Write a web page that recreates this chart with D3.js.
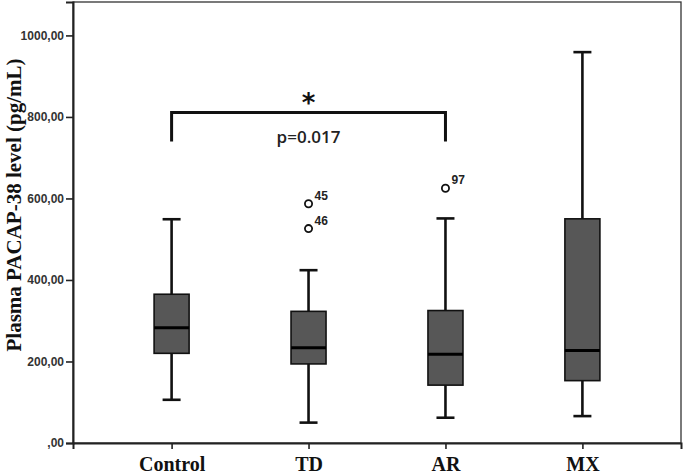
<!DOCTYPE html>
<html>
<head>
<meta charset="utf-8">
<script src="https://cdn.jsdelivr.net/npm/d3@7"></script>
<style>
html,body{margin:0;padding:0;background:#fff;}
svg{display:block;}
</style>
</head>
<body>
<svg id="chart" width="684" height="474"></svg>
<script>
const categories = ["Control", "TD", "AR", "MX"];
const lowerWhisker = [106, 50, 62, 66];
const q1Values = [220, 194, 142, 153];
const medianValues = [283, 234, 218, 227];
const q3Values = [365, 323, 325, 550];
const upperWhisker = [549, 424, 551, 959];
const outlierGroups = ["TD", "TD", "AR"];
const outlierValues = [587, 526, 625];
const outlierLabels = ["45", "46", "97"];
const yTicks = [0, 200, 400, 600, 800, 1000];
const yTickLabels = [",00", "200,00", "400,00", "600,00", "800,00", "1000,00"];
const bracketGroups = ["Control", "AR"];
const bracketTop = 811;
const bracketLeg = 740;
const pLabel = "p=0.017";

(function () {
const svg = d3.select("#chart");
const pL = 73, pR = 681, pT = 2, pB = 443;

const x = d3.scalePoint().domain(categories).range([pL, pR]).padding(0.72);
const y = d3.scaleLinear().domain([0, 1082]).range([pB, pT]);

svg.append("rect").attr("x", pL).attr("y", pT).attr("width", pR - pL).attr("height", pB - pT)
  .attr("fill", "none").attr("stroke", "#333").attr("stroke-width", 1.3);

const yAxis = d3.axisLeft(y).tickValues(yTicks).tickSize(7).tickPadding(2)
  .tickFormat((d, i) => yTickLabels[i]);
const gy = svg.append("g").attr("transform", `translate(${pL},0)`).call(yAxis);
gy.select(".domain").attr("stroke", "#222").attr("stroke-width", 2);
gy.selectAll(".tick line").attr("stroke", "#222").attr("stroke-width", 1.6);
gy.selectAll(".tick text").attr("font-family", "Liberation Sans, Arial, sans-serif")
  .attr("font-size", 12).attr("font-weight", "bold").attr("fill", "#333");

const xAxis = d3.axisBottom(x).tickSize(6).tickPadding(8);
const gx = svg.append("g").attr("transform", `translate(0,${pB})`).call(xAxis);
gx.select(".domain").attr("stroke", "#222").attr("stroke-width", 2);
gx.selectAll(".tick line").attr("stroke", "#222").attr("stroke-width", 1.6);
gx.selectAll(".tick text").attr("font-family", "Liberation Serif, Times New Roman, serif")
  .attr("font-size", 20).attr("font-weight", "bold").attr("fill", "#111");

svg.append("text").attr("transform", "translate(21,205) rotate(-90)")
  .attr("text-anchor", "middle")
  .attr("font-family", "Liberation Serif, Times New Roman, serif")
  .attr("font-size", 21).attr("font-weight", "bold").attr("fill", "#111")
  .text("Plasma PACAP-38 level (pg/mL)");

const boxW = 35, capW = 18;
const boxes = categories.map((c, i) => ({
  c, lo: lowerWhisker[i], q1: q1Values[i], med: medianValues[i], q3: q3Values[i], hi: upperWhisker[i]
}));
const g = svg.append("g");
boxes.forEach(b => {
  const cx = x(b.c);
  g.append("line").attr("x1", cx).attr("x2", cx).attr("y1", y(b.q3)).attr("y2", y(b.hi))
    .attr("stroke", "#111").attr("stroke-width", 2.6);
  g.append("line").attr("x1", cx).attr("x2", cx).attr("y1", y(b.q1)).attr("y2", y(b.lo))
    .attr("stroke", "#111").attr("stroke-width", 2.6);
  g.append("line").attr("x1", cx - capW / 2).attr("x2", cx + capW / 2).attr("y1", y(b.hi)).attr("y2", y(b.hi))
    .attr("stroke", "#111").attr("stroke-width", 2.6);
  g.append("line").attr("x1", cx - capW / 2).attr("x2", cx + capW / 2).attr("y1", y(b.lo)).attr("y2", y(b.lo))
    .attr("stroke", "#111").attr("stroke-width", 2.6);
  g.append("rect").attr("x", cx - boxW / 2).attr("y", y(b.q3)).attr("width", boxW)
    .attr("height", y(b.q1) - y(b.q3)).attr("fill", "#575757").attr("stroke", "#111").attr("stroke-width", 1.6);
  g.append("line").attr("x1", cx - boxW / 2).attr("x2", cx + boxW / 2).attr("y1", y(b.med)).attr("y2", y(b.med))
    .attr("stroke", "#000").attr("stroke-width", 3);
});

outlierValues.forEach((v, i) => {
  const cx = x(outlierGroups[i]), cy = y(v);
  g.append("circle").attr("cx", cx).attr("cy", cy).attr("r", 3.6)
    .attr("fill", "#fff").attr("stroke", "#111").attr("stroke-width", 1.8);
  g.append("text").attr("x", cx + 6).attr("y", cy - 4)
    .attr("font-family", "Liberation Sans, Arial, sans-serif").attr("font-size", 12)
    .attr("font-weight", "bold").attr("fill", "#222").text(outlierLabels[i]);
});

const bx1 = x(bracketGroups[0]), bx2 = x(bracketGroups[1]);
svg.append("path")
  .attr("d", `M${bx1},${y(bracketLeg)} V${y(bracketTop)} H${bx2} V${y(bracketLeg)}`)
  .attr("fill", "none").attr("stroke", "#111").attr("stroke-width", 3);
svg.append("text").attr("x", (bx1 + bx2) / 2).attr("y", 143).attr("text-anchor", "middle")
  .attr("font-family", "Open Sans, Noto Sans, sans-serif").attr("font-size", 17)
  .attr("font-weight", "600").attr("fill", "#222").text(pLabel);
svg.append("text").attr("x", (bx1 + bx2) / 2).attr("y", 112).attr("text-anchor", "middle")
  .attr("font-family", "DejaVu Sans, sans-serif").attr("font-size", 26)
  .attr("font-weight", "bold").attr("fill", "#111").text("*");
})();
</script>
</body>
</html>
